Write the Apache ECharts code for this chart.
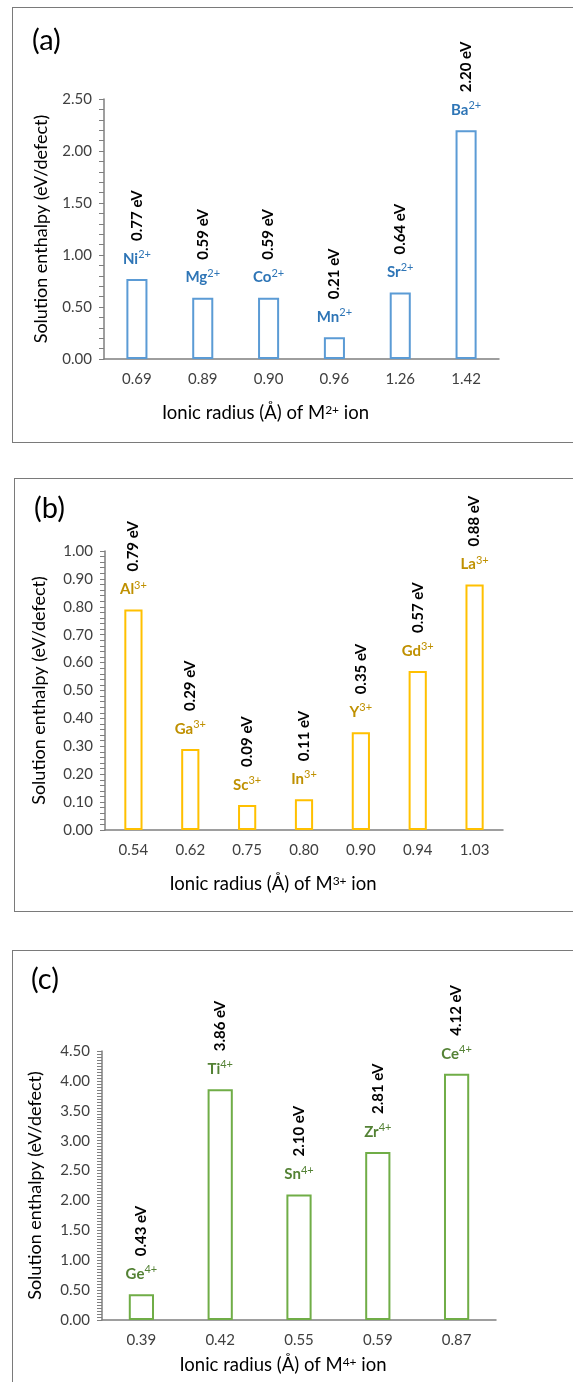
<!DOCTYPE html>
<html>
<head>
<meta charset="utf-8">
<script src="https://cdn.jsdelivr.net/npm/echarts@6/dist/echarts.min.js"></script>
<style>
  body { margin: 0; background: #fff; width: 573px; height: 1382px; overflow: hidden; position: relative; }
  .box { position: absolute; border: 1px solid #7a7a7a; box-sizing: border-box; background: #fff; }
</style>
</head>
<body>
<div id="qa" class="box" style="left:12px; top:7px; width:600px; height:436px;"></div>
<div id="qb" class="box" style="left:14px; top:478px; width:600px; height:434px;"></div>
<div id="qc" class="box" style="left:12px; top:950px; width:600px; height:460px;"></div>
<script>
// (a) M2+ ions
var radiusA = ['0.69', '0.89', '0.90', '0.96', '1.26', '1.42'];
var enthalpyA = [0.77, 0.59, 0.59, 0.21, 0.64, 2.20];
var ionsA = ['Ni', 'Mg', 'Co', 'Mn', 'Sr', 'Ba'];

// (b) M3+ ions
var radiusB = ['0.54', '0.62', '0.75', '0.80', '0.90', '0.94', '1.03'];
var enthalpyB = [0.79, 0.29, 0.09, 0.11, 0.35, 0.57, 0.88];
var ionsB = ['Al', 'Ga', 'Sc', 'In', 'Y', 'Gd', 'La'];

// (c) M4+ ions
var radiusC = ['0.39', '0.42', '0.55', '0.59', '0.87'];
var enthalpyC = [0.43, 3.86, 2.10, 2.81, 4.12];
var ionsC = ['Ge', 'Ti', 'Sn', 'Zr', 'Ce'];

var FONT = 'Lato, "Open Sans", sans-serif';

function makeOption(p) {
	return {
		animation: false,
		textStyle: { fontFamily: FONT },
		title: {
			text: p.tag,
			left: p.tagLeft,
			top: p.tagTop,
			textStyle: { fontFamily: FONT, fontSize: 29, fontWeight: 'normal', color: '#000' }
		},
		grid: { left: p.grid[0], top: p.grid[1], width: p.grid[2], height: p.grid[3] },
		xAxis: {
			type: 'category',
			data: p.cats,
			axisLine: { lineStyle: { color: '#7f7f7f', width: 1.5 } },
			axisTick: { show: false },
			axisLabel: { fontSize: 15, color: '#404040', margin: 13 },
			name: 'Ionic radius (Å) of M{s|' + p.charge + '} ion',
			nameLocation: 'middle',
			nameGap: p.xNameGap,
			nameTextStyle: {
				fontSize: 18.5, color: '#000', padding: [0, p.xNameShift, 0, 0],
				rich: {
					s: { fontSize: 12, color: '#000', verticalAlign: 'top', lineHeight: 13 }
				}
			}
		},
		yAxis: {
			type: 'value',
			min: 0,
			max: p.max,
			interval: p.step,
			splitLine: { show: false },
			axisLine: { show: true, lineStyle: { color: '#7f7f7f', width: 1.5 } },
			axisTick: { show: true, length: 5, lineStyle: { color: '#7f7f7f' } },
			minorTick: { show: true, splitNumber: p.minor, length: 5, lineStyle: { color: '#7f7f7f' } },
			axisLabel: {
				fontSize: 15, color: '#404040', margin: 12,
				formatter: function (v) { return v.toFixed(2); }
			},
			name: 'Solution enthalpy (eV/defect)',
			nameLocation: 'middle',
			nameGap: p.yNameGap,
			nameTextStyle: { fontSize: 18, color: '#000' }
		},
		series: [{
			type: 'bar',
			data: p.values,
			barWidth: '32%',
			itemStyle: { color: '#fff', borderColor: p.barColor, borderWidth: 2 },
			label: {
				show: true,
				position: 'top',
				distance: 10,
				formatter: function (q) { return '{n|' + p.ions[q.dataIndex] + '}{s|' + p.charge + '}'; },
				rich: {
					n: { fontSize: 15, fontWeight: 'bold', color: p.textColor, lineHeight: 20, fontFamily: FONT },
					s: { fontSize: 11, color: p.textColor, verticalAlign: 'top', lineHeight: 12, fontFamily: FONT }
				}
			}
		}, {
			type: 'bar',
			data: p.values,
			barWidth: '32%',
			barGap: '-100%',
			silent: true,
			itemStyle: { color: 'transparent' },
			label: {
				show: true,
				position: 'top',
				distance: 38,
				rotate: 90,
				align: 'left',
				verticalAlign: 'middle',
				fontSize: 15,
				fontWeight: 'bold',
				color: '#000',
				formatter: function (q) { return q.value.toFixed(2) + ' eV'; }
			}
		}]
	};
}

var myChart1 = echarts.init(document.getElementById('qa'));
myChart1.setOption(makeOption({
	tag: '(a)', tagLeft: 14, tagTop: 13,
	grid: [91, 91, 395, 260],
	cats: radiusA, values: enthalpyA, ions: ionsA, charge: '2+',
	max: 2.5, step: 0.5, minor: 5,
	xNameGap: 45, xNameShift: 72, yNameGap: 54,
	barColor: '#5B9BD5', textColor: '#2E75B6'
}));

var myChart2 = echarts.init(document.getElementById('qb'));
myChart2.setOption(makeOption({
	tag: '(b)', tagLeft: 14, tagTop: 10,
	grid: [90, 72, 398, 279],
	cats: radiusB, values: enthalpyB, ions: ionsB, charge: '3+',
	max: 1.0, step: 0.1, minor: 5,
	xNameGap: 45, xNameShift: 62, yNameGap: 57,
	barColor: '#FFC000', textColor: '#BF9000'
}));

var myChart3 = echarts.init(document.getElementById('qc'));
myChart3.setOption(makeOption({
	tag: '(c)', tagLeft: 13, tagTop: 9,
	grid: [89, 100, 394, 269],
	cats: radiusC, values: enthalpyC, ions: ionsC, charge: '4+',
	max: 4.5, step: 0.5, minor: 10,
	xNameGap: 36, xNameShift: 32, yNameGap: 58,
	barColor: '#70AD47', textColor: '#548235'
}));
</script>
</body>
</html>
